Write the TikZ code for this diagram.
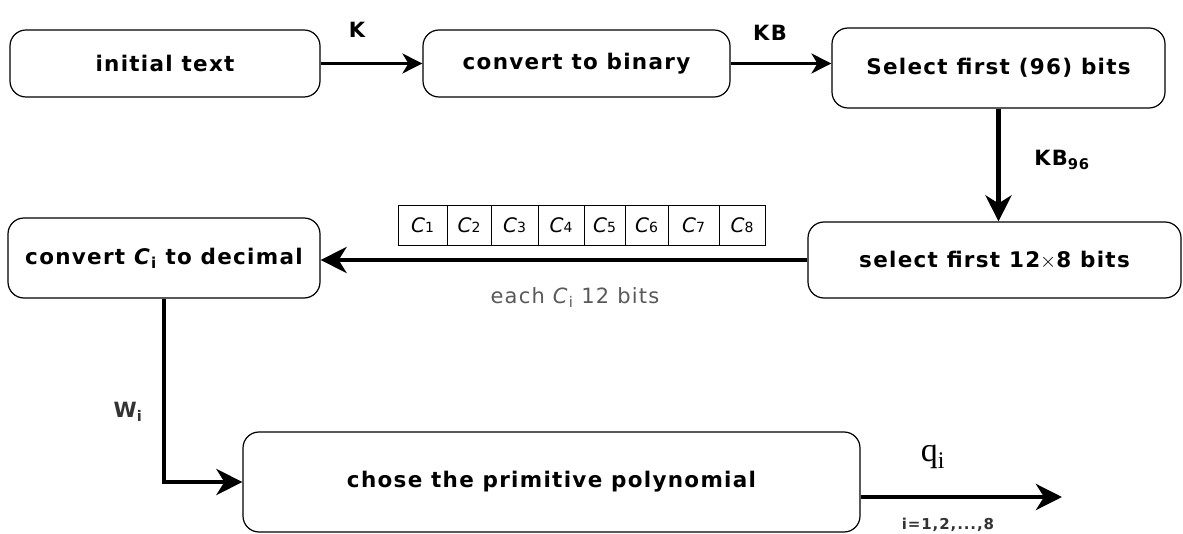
\documentclass[tikz,border=0pt]{standalone}
\usepackage{fontspec}
\setmainfont{DejaVu Sans}[LetterSpace=6]
\newfontfamily\seriffont{Liberation Serif}
\usetikzlibrary{arrows.meta}

\begin{document}
\begin{tikzpicture}[x=1pt,y=-1pt,
    box/.style={draw, line width=1.2pt, rounded corners=16pt, align=center,
      font=\fontsize{21.5}{25}\selectfont\bfseries},
    cell/.style={draw, line width=0.8pt, minimum height=40pt, inner sep=0pt,
      font=\fontsize{20}{22}\selectfont\itshape},
    flow/.style={line width=2.6pt, -{Stealth[length=20pt,width=20pt,inset=6pt]}},
    thick flow/.style={line width=4.5pt, -{Stealth[length=26pt,width=26pt,inset=8pt]}},
    lbl/.style={font=\fontsize{21}{24}\selectfont\bfseries}]
  \useasboundingbox (0,0) rectangle (1183,534);

  % the boxes
  \node[box, minimum width=310pt, minimum height=67pt] (init) at (165,63.5) {initial text};
  \node[box, minimum width=307pt, minimum height=67pt] (binary) at (576.5,63.5) {convert to binary};
  \node[box, minimum width=333pt, minimum height=80pt] (sel96) at (998.5,68) {Select first (96) bits};
  \node[box, minimum width=373pt, minimum height=76pt] (sel128) at (994.5,260) {select first 12$\times$8 bits};
  \node[box, minimum width=312pt, minimum height=80pt, inner sep=2pt] (dec) at (164,258) {convert \textit{C}\textsubscript{i} to decimal};
  \node[box, minimum width=617pt, minimum height=100pt] (poly) at (551.5,482) {chose the primitive polynomial};

  % the row of sub-blocks C1..C8
  \foreach \n/\xa/\xb in {1/398/447, 2/447/491, 3/491/538, 4/538/584,
                          5/584/625, 6/625/668, 7/668/719, 8/719/765}
    \node[cell, minimum width=\xb pt-\xa pt] (c\n) at ({(\xa+\xb)/2},225)
      {C{\fontsize{14}{16}\selectfont\upshape\n}};

  % connectors
  \draw[flow] (init.east) -- (binary.west);
  \node[lbl] (k) at (357,30) {K};
  \draw[flow] (binary.east) -- (binary.east -| sel96.west);
  \node[lbl] (kb) at (770,33) {KB};

  \draw[thick flow] (sel96.south) -- (sel96.south |- sel128.north);
  \node[lbl] (kb96) at (1062,160) {KB\textsubscript{96}};

  \draw[thick flow] (sel128.west) -- (sel128.west -| dec.east);
  \node[font=\fontsize{21}{24}\selectfont, text=black!65] (each) at (575,298)
    {each \textit{C}\textsubscript{i} 12 bits};

  \draw[thick flow] (dec.south) |- (poly.west);
  \node[lbl, text=black!80] (wi) at (128,412) {W\textsubscript{i}};

  \coordinate (out) at (1062,497);
  \draw[thick flow] ([yshift=-15pt]poly.east) -- (out);
  \node[font=\fontsize{34}{36}\selectfont\seriffont] (qi) at (933,457) {q\textsubscript{i}};
  \node[font=\fontsize{15}{17}\selectfont\bfseries, text=black!80] (range) at (948,525) {i=1,2,...,8};
\end{tikzpicture}
\end{document}
